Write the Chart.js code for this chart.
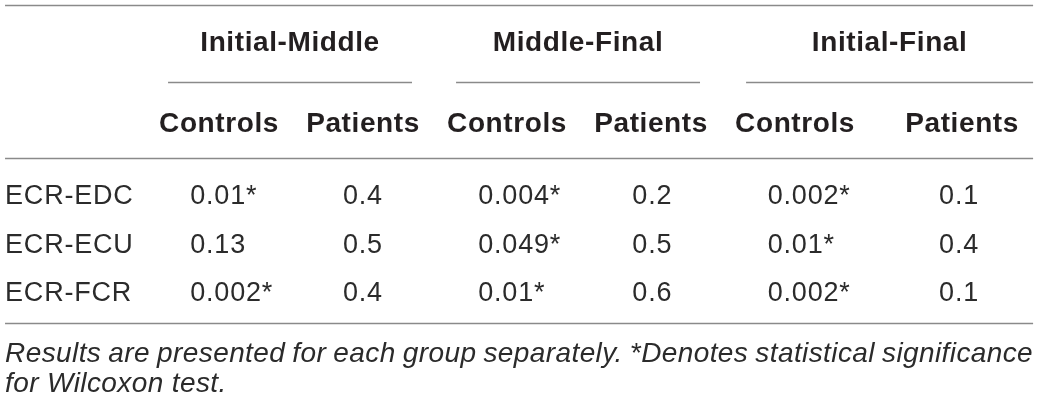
<!DOCTYPE html>
<html>
<head>
<meta charset="utf-8">
<script src="https://cdn.jsdelivr.net/npm/chart.js@4"></script>
<style>
  html, body { margin: 0; padding: 0; background: #fff; }
  #wrap { width: 1039px; height: 405px; position: relative; }
</style>
</head>
<body>
<div id="wrap"><canvas id="tbl"></canvas></div>
<script>
// table content
const rowLabels = ["ECR-EDC", "ECR-ECU", "ECR-FCR"];
const groupLabels = ["Initial-Middle", "Middle-Final", "Initial-Final"];
const subLabels = ["Controls", "Patients", "Controls", "Patients", "Controls", "Patients"];

const imControls = [0.01, 0.13, 0.002];
const imPatients = [0.4, 0.5, 0.4];
const mfControls = [0.004, 0.049, 0.01];
const mfPatients = [0.2, 0.5, 0.6];
const ifControls = [0.002, 0.01, 0.002];
const ifPatients = [0.1, 0.4, 0.1];

const alpha = 0.05; // values below get a *
const footnote = ["Results are presented for each group separately. *Denotes statistical significance", "for Wilcoxon test."];

// layout (scale units)
const colCenter = [1, 2, 3, 4, 5, 6.16];
const colStart = [0.8, 1.86, 2.8, 3.87, 4.81, 6.0];
const groupSpan = [[0.646, 2.34], [2.646, 4.34], [4.66, 6.653]];
const leftEdge = -0.486, rightEdge = 6.653;
const yHead1 = -3.18, yHead2 = -1.5;
const yRules = { top: -3.923, under: -2.329, head: -0.756, bottom: 2.66 };
const yNotes = [3.26, 3.87];

const columns = [imControls, imPatients, mfControls, mfPatients, ifControls, ifPatients];
const fmt = v => String(v) + (v < alpha ? "*" : "");

const ink = "#231f20";
const bodyInk = "#2b2b2b";
const ruleCol = "#8a8a8a";
const fam = '"Liberation Sans", Arial, Helvetica, sans-serif';

const tablePlugin = {
  id: "tableText",
  afterDatasetsDraw(chart) {
    const ctx = chart.ctx;
    const xs = chart.scales.x, ys = chart.scales.y;
    const px = v => xs.getPixelForValue(v);
    const py = v => ys.getPixelForValue(v);
    ctx.save();

    // rules
    ctx.strokeStyle = ruleCol;
    ctx.lineWidth = 1.4;
    const hline = (x0, x1, y) => {
      ctx.beginPath();
      ctx.moveTo(px(x0), Math.round(py(y)) + 0.5);
      ctx.lineTo(px(x1), Math.round(py(y)) + 0.5);
      ctx.stroke();
    };
    hline(leftEdge, rightEdge, yRules.top);
    hline(leftEdge, rightEdge, yRules.head);
    hline(leftEdge, rightEdge, yRules.bottom);
    groupSpan.forEach(s => hline(s[0], s[1], yRules.under));

    ctx.fillStyle = ink;
    ctx.textBaseline = "alphabetic";

    // headers
    const hs = 28;
    ctx.font = "bold " + hs + "px " + fam;
    ctx.letterSpacing = "0.6px";
    ctx.textAlign = "center";
    groupLabels.forEach((g, i) => {
      ctx.fillText(g, (px(groupSpan[i][0]) + px(groupSpan[i][1])) / 2, py(yHead1) + hs * 0.36);
    });
    subLabels.forEach((s, i) => {
      ctx.fillText(s, px(colCenter[i]), py(yHead2) + hs * 0.36);
    });

    // body cells, placed at each dataset point
    const bs = 27;
    ctx.font = bs + "px " + fam;
    ctx.fillStyle = bodyInk;
    ctx.letterSpacing = "0.8px";
    ctx.textAlign = "left";
    rowLabels.forEach((r, j) => ctx.fillText(r, px(leftEdge), py(j) + bs * 0.36));
    chart.data.datasets.forEach((ds, i) => {
      const meta = chart.getDatasetMeta(i);
      meta.data.forEach((pt, j) => {
        ctx.fillText(fmt(columns[i][j]), pt.x, pt.y + bs * 0.36);
      });
    });

    // footnote, first line justified
    const fs = 28;
    ctx.font = "italic " + fs + "px " + fam;
    ctx.letterSpacing = "0.4px";
    const words = footnote[0].split(" ");
    const widths = words.map(w => ctx.measureText(w).width);
    const total = widths.reduce((a, b) => a + b, 0);
    const gap = (px(rightEdge) - px(leftEdge) - total) / (words.length - 1);
    let x = px(leftEdge);
    words.forEach((w, k) => {
      ctx.fillText(w, x, py(yNotes[0]) + fs * 0.36);
      x += widths[k] + gap;
    });
    ctx.fillText(footnote[1], px(leftEdge), py(yNotes[1]) + fs * 0.36);

    ctx.restore();
  }
};

new Chart(document.getElementById("tbl").getContext("2d"), {
  type: "scatter",
  data: {
    datasets: columns.map((col, i) => ({
      label: subLabels[i],
      data: col.map((v, j) => ({ x: colStart[i], y: j })),
      pointRadius: 0,
      pointHoverRadius: 0,
    })),
  },
  options: {
    responsive: true,
    maintainAspectRatio: false,
    animation: false,
    events: [],
    layout: { padding: 0 },
    plugins: { legend: { display: false }, tooltip: { enabled: false } },
    scales: {
      x: { type: "linear", display: false, min: -0.521, max: 6.694 },
      y: { type: "linear", display: false, reverse: true, min: -4.027, max: 4.358 },
    },
  },
  plugins: [tablePlugin],
});
</script>
</body>
</html>
